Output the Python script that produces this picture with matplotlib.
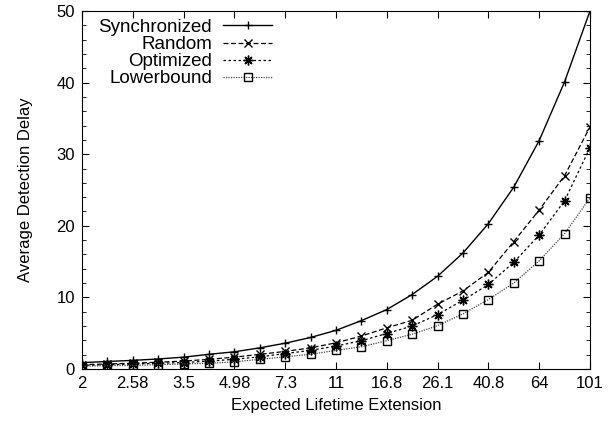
import matplotlib
matplotlib.use('Agg')
import matplotlib.pyplot as plt
import numpy as np

plt.rcParams['font.family'] = ['Liberation Sans', 'DejaVu Sans']

# x 轴刻度（等间距分布，每两点一个标签）
tick_labels = ['2', '2.58', '3.5', '4.98', '7.3', '11', '16.8', '26.1', '40.8', '64', '101']

# 各曲线数据
synchronized = [0.88, 1.05, 1.2, 1.4, 1.65, 2.05, 2.4, 2.95, 3.6, 4.4, 5.4,
                6.75, 8.3, 10.4, 12.95, 16.2, 20.3, 25.4, 31.9, 40.1, 50.0]
random_ = [0.6, 0.7, 0.8, 0.95, 1.1, 1.35, 1.65, 2.05, 2.45, 2.95, 3.65,
           4.6, 5.75, 6.8, 9.05, 10.9, 13.5, 17.8, 22.2, 27.0, 33.8]
optimized = [0.5, 0.6, 0.7, 0.8, 0.9, 1.1, 1.35, 1.7, 2.15, 2.6, 3.2,
             3.95, 4.95, 6.0, 7.6, 9.6, 11.8, 14.9, 18.7, 23.5, 30.9]
lowerbound = [0.4, 0.45, 0.5, 0.6, 0.7, 0.8, 1.0, 1.35, 1.7, 2.05, 2.6,
              3.1, 3.95, 4.85, 6.05, 7.7, 9.7, 12.0, 15.1, 18.9, 23.9]

xs = np.arange(len(synchronized))

fig = plt.figure(figsize=(6.15, 4.28), dpi=100)
ax = fig.add_axes([0.1333, 0.1379, 0.826, 0.8364])

ax.plot(xs, synchronized, color='black', lw=1.0, marker='+', ms=6, mew=1.0,
        label='Synchronized')
ax.plot(xs, random_, color='black', lw=0.9, ls=(0, (4, 2)), marker='x', ms=6,
        mew=1.0, label='Random')
ax.plot(xs, optimized, color='black', lw=0.9, ls=(0, (2, 2)), marker=(8, 2, 0),
        ms=7, mew=1.0, label='Optimized')
ax.plot(xs, lowerbound, color='#444444', lw=0.9, ls=(0, (1, 1)), marker='s',
        ms=6, mew=1.0, mfc='none', mec='black', label='Lowerbound')

ax.set_xlim(0, len(xs) - 1)
ax.set_ylim(0, 50)
ax.set_xticks(xs[::2])
ax.set_xticklabels(tick_labels)
ax.set_yticks(np.arange(0, 51, 10))
ax.set_yticks(np.arange(0, 51, 2), minor=True)
ax.tick_params(axis='both', which='both', direction='in', top=True, right=True,
               labelsize=12, pad=5)
ax.tick_params(which='major', length=5)
ax.tick_params(which='minor', length=3)
ax.tick_params(axis='x', which='minor', top=False, bottom=False)

ax.set_xlabel('Expected Lifetime Extension', fontsize=12, labelpad=5)
ax.set_ylabel('Average Detection Delay', fontsize=12, labelpad=17)

ax.legend(loc='upper right', bbox_to_anchor=(0.374, 0.978), frameon=False,
          markerfirst=False, handlelength=2.6, labelspacing=0.0,
          borderpad=0, borderaxespad=0, handletextpad=0.6, fontsize=13.5,
          numpoints=1)

fig.savefig('out.png', dpi=100)
